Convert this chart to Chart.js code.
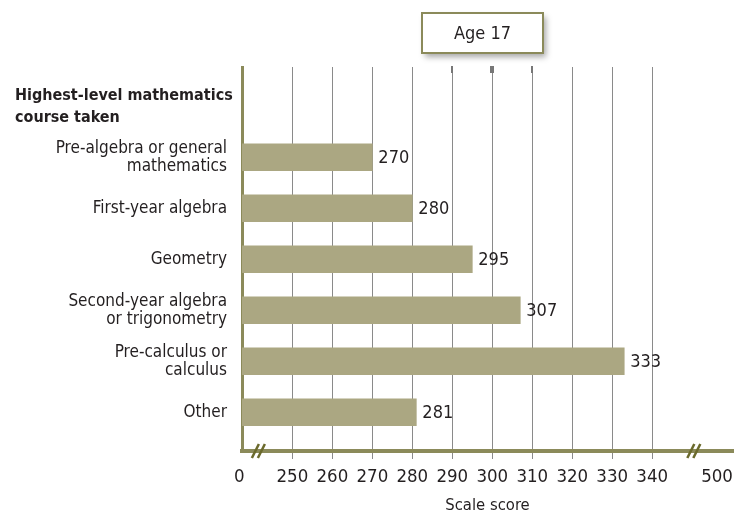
<!DOCTYPE html>
<html>
<head>
<meta charset="utf-8">
<script src="https://cdn.jsdelivr.net/npm/chart.js@4"></script>
<style>
  html, body { margin: 0; padding: 0; background: #fff; }
</style>
</head>
<body>
<canvas id="scoreChart" width="748" height="516"></canvas>
<script>
// Chart data
const courses = [
  ['Pre-algebra or general', 'mathematics'],
  'First-year algebra',
  'Geometry',
  ['Second-year algebra', 'or trigonometry'],
  ['Pre-calculus or', 'calculus'],
  'Other'
];
const scores = [270, 280, 295, 307, 333, 281];
const tickLabels = [0, 250, 260, 270, 280, 290, 300, 310, 320, 330, 340, 500];
const headingLines = ['Highest-level mathematics', 'course taken'];
const panelTitle = 'Age 17';
const axisTitle = 'Scale score';

// broken axis: where 0 and 500 sit on the squeezed scale
const breakLow = 236.7;
const breakHigh = 356.2;
const breakMarks = [241.5, 350.4];
const topMarks = [290, 300, 310];

const FONT = "'DejaVu Sans Condensed', 'Liberation Sans Narrow', sans-serif";
const TEXT = '#231f20';
const OLIVE = '#8b8a5a';

function toAxis(v) {
  if (v === 0) return breakLow;
  if (v === 500) return breakHigh;
  return v;
}

// Extra drawing: value labels, heading, age box, axis breaks
const decorPlugin = {
  id: 'decor',
  afterDatasetsDraw(chart) {
    const ctx = chart.ctx;
    const meta = chart.getDatasetMeta(0);
    ctx.save();
    ctx.font = '18px ' + FONT;
    ctx.fillStyle = TEXT;
    ctx.textBaseline = 'middle';
    meta.data.forEach((bar, i) => {
      ctx.fillText(String(scores[i]), bar.x + 6, bar.y + 1);
    });
    ctx.restore();
  },
  afterDraw(chart) {
    const ctx = chart.ctx;
    const xs = chart.scales.x;
    const area = chart.chartArea;
    ctx.save();

    // heading
    ctx.font = 'bold 16px ' + FONT;
    ctx.fillStyle = TEXT;
    ctx.textBaseline = 'alphabetic';
    headingLines.forEach((line, i) => {
      ctx.fillText(line, 15, 100 + i * 22);
    });

    // age box
    ctx.save();
    ctx.shadowColor = 'rgba(0,0,0,0.35)';
    ctx.shadowBlur = 6;
    ctx.shadowOffsetX = 3;
    ctx.shadowOffsetY = 4;
    ctx.fillStyle = '#fff';
    ctx.fillRect(422, 13, 121, 40);
    ctx.restore();
    ctx.strokeStyle = OLIVE;
    ctx.lineWidth = 2;
    ctx.strokeRect(422, 13, 121, 40);
    ctx.font = '18px ' + FONT;
    ctx.fillStyle = TEXT;
    ctx.textAlign = 'center';
    ctx.textBaseline = 'middle';
    ctx.fillText(panelTitle, 482.5, 34);

    // small marks at the top of the grid
    ctx.fillStyle = '#777';
    topMarks.forEach(v => {
      const px = Math.round(xs.getPixelForValue(v));
      const w = v === 300 ? 4 : 2;
      ctx.fillRect(px - w / 2, area.top - 1, w, 7);
    });

    // axis break slashes
    ctx.strokeStyle = '#6b6a2c';
    ctx.lineWidth = 2.5;
    breakMarks.forEach(v => {
      const cx = xs.getPixelForValue(v);
      const cy = area.bottom;
      [-3, 3].forEach(off => {
        ctx.beginPath();
        ctx.moveTo(cx + off - 3.5, cy + 7);
        ctx.lineTo(cx + off + 3.5, cy - 7);
        ctx.stroke();
      });
    });
    ctx.restore();
  }
};

new Chart(document.getElementById('scoreChart'), {
  type: 'bar',
  data: {
    datasets: [{
      data: scores.map((s, i) => ({ x: s, y: i })),
      backgroundColor: '#aba782',
      borderWidth: 0,
      barThickness: 27
    }]
  },
  options: {
    indexAxis: 'y',
    responsive: false,
    animation: false,
    devicePixelRatio: 1,
    layout: { padding: { top: 67, right: 15, left: 0, bottom: 0 } },
    plugins: {
      legend: { display: false },
      tooltip: { enabled: false }
    },
    scales: {
      x: {
        type: 'linear',
        position: 'bottom',
        min: 237.4,
        max: 360.2,
        afterBuildTicks: s => { s.ticks = tickLabels.map(v => ({ value: toAxis(v) })); },
        afterFit: s => { s.height = 65; },
        ticks: {
          autoSkip: false,
          maxRotation: 0,
          padding: 7,
          color: TEXT,
          font: { family: FONT, size: 18.5 },
          callback: (v, i) => String(tickLabels[i])
        },
        grid: {
          color: c => (c.tick && (c.tick.value === breakLow || c.tick.value === breakHigh)) ? 'rgba(0,0,0,0)' : '#8a8a8a',
          lineWidth: 1,
          tickLength: 8
        },
        border: { color: OLIVE, width: 4 },
        title: {
          display: true,
          text: axisTitle,
          color: TEXT,
          font: { family: FONT, size: 16.5 },
          padding: { top: 0, bottom: 0 }
        }
      },
      y: {
        type: 'linear',
        reverse: true,
        offset: false,
        min: -1.77,
        max: 5.76,
        z: 1,
        afterBuildTicks: s => { s.ticks = courses.map((c, i) => ({ value: i })); },
        afterFit: s => { s.width = 242; },
        ticks: {
          autoSkip: false,
          padding: 15,
          color: TEXT,
          font: { family: FONT, size: 17, lineHeight: 1.04 },
          callback: (v, i) => courses[i]
        },
        grid: { display: false, drawTicks: false },
        border: { color: OLIVE, width: 3 }
      }
    }
  },
  plugins: [decorPlugin]
});
</script>
</body>
</html>
